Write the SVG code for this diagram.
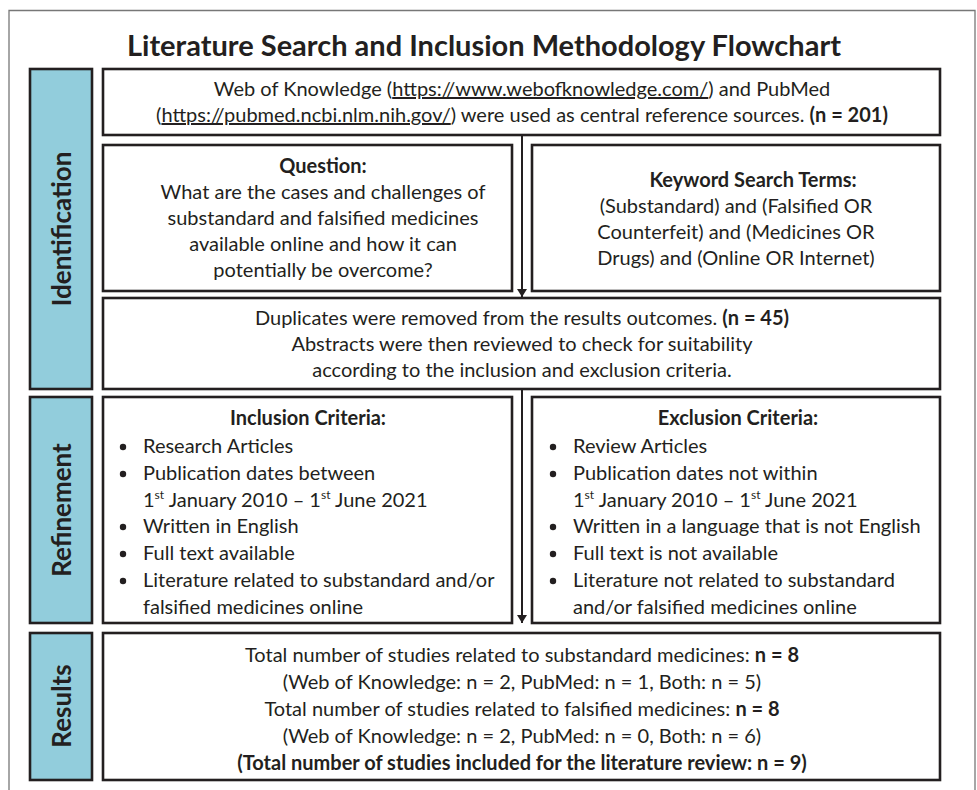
<svg xmlns="http://www.w3.org/2000/svg" width="977" height="790" viewBox="0 0 977 790">
<style>
.t{font-family:Lato,"Open Sans",sans-serif;font-size:20px;fill:#231f20}
.b{font-weight:bold}
.box{fill:#fff;stroke:#231f20;stroke-width:2.6}
.lab{fill:#92cddc;stroke:#231f20;stroke-width:2.6}
.lt{font-family:Lato,"Open Sans",sans-serif;font-size:26px;font-weight:bold;fill:#231f20}
.c{text-anchor:middle}
.u{text-decoration:underline}
.sup{font-size:12px}
</style>
<defs>
<marker id="ah" markerWidth="8" markerHeight="10" refX="8" refY="5" orient="auto" markerUnits="userSpaceOnUse"><path d="M0,0 L8,5 L0,10 Z" fill="#231f20"/></marker>
</defs>
<rect width="977" height="790" fill="#fff"/>
<path d="M9,790 V10.5 H975 V790" fill="none" stroke="#777" stroke-width="1.3"/>
<text class="t b c" x="484" y="56" style="font-size:29px">Literature Search and Inclusion Methodology Flowchart</text>

<g id="label-identification"><rect class="lab" x="30" y="69" width="62" height="320"/><text class="lt c" transform="translate(71,229) rotate(-90)">Identification</text></g>
<g id="label-refinement"><rect class="lab" x="30" y="397" width="62" height="226"/><text class="lt c" transform="translate(71,510) rotate(-90)">Refinement</text></g>
<g id="label-results"><rect class="lab" x="30" y="633" width="62" height="147"/><text class="lt c" transform="translate(71,706) rotate(-90)">Results</text></g>

<g id="connectors" stroke="#231f20" stroke-width="2" fill="none">
<line x1="522" y1="135" x2="522" y2="297" marker-end="url(#ah)"/>
<line x1="522" y1="389" x2="522" y2="623" marker-end="url(#ah)"/>
</g>

<g id="sources"><rect class="box" x="103" y="69" width="837" height="66"/>
<text class="t c" x="522" y="96">Web of Knowledge (<tspan class="u">https://www.webofknowledge.com/</tspan>) and PubMed</text>
<text class="t c" x="522" y="122">(<tspan class="u">https://pubmed.ncbi.nlm.nih.gov/</tspan>) were used as central reference sources. <tspan class="b">(n = 201)</tspan></text>
</g>

<g id="question"><rect class="box" x="103" y="145" width="409" height="146"/>
<text class="t c b" x="323" y="173">Question:</text>
<text class="t c" x="323" y="199">What are the cases and challenges of</text>
<text class="t c" x="323" y="225">substandard and falsified medicines</text>
<text class="t c" x="323" y="251">available online and how it can</text>
<text class="t c" x="323" y="277">potentially be overcome?</text>
</g>

<g id="keywords"><rect class="box" x="532" y="145" width="408" height="146"/>
<text class="t c b" x="753" y="187">Keyword Search Terms:</text>
<text class="t c" x="736" y="213">(Substandard) and (Falsified OR</text>
<text class="t c" x="736" y="239">Counterfeit) and (Medicines OR</text>
<text class="t c" x="736" y="265">Drugs) and (Online OR Internet)</text>
</g>

<g id="duplicates"><rect class="box" x="103" y="298" width="837" height="91"/>
<text class="t c" x="522" y="325">Duplicates were removed from the results outcomes. <tspan class="b">(n = 45)</tspan></text>
<text class="t c" x="522" y="351">Abstracts were then reviewed to check for suitability</text>
<text class="t c" x="522" y="377">according to the inclusion and exclusion criteria.</text>
</g>

<g id="inclusion"><rect class="box" x="103" y="397" width="409" height="226"/>
<text class="t c b" x="308" y="425">Inclusion Criteria:</text>
<g fill="#231f20"><circle cx="123" cy="447" r="3.2"/><circle cx="123" cy="474" r="3.2"/><circle cx="123" cy="527" r="3.2"/><circle cx="123" cy="554" r="3.2"/><circle cx="123" cy="581" r="3.2"/></g>
<text class="t" x="143" y="453">Research Articles</text>
<text class="t" x="143" y="480">Publication dates between</text>
<text class="t" x="143" y="507">1<tspan class="sup" dy="-8">st</tspan><tspan dy="8"> January 2010 – 1</tspan><tspan class="sup" dy="-8">st</tspan><tspan dy="8"> June 2021</tspan></text>
<text class="t" x="143" y="533">Written in English</text>
<text class="t" x="143" y="560">Full text available</text>
<text class="t" x="143" y="587">Literature related to substandard and/or</text>
<text class="t" x="143" y="614">falsified medicines online</text>
</g>

<g id="exclusion"><rect class="box" x="532" y="397" width="408" height="226"/>
<text class="t c b" x="738" y="425">Exclusion Criteria:</text>
<g fill="#231f20"><circle cx="553" cy="447" r="3.2"/><circle cx="553" cy="474" r="3.2"/><circle cx="553" cy="527" r="3.2"/><circle cx="553" cy="554" r="3.2"/><circle cx="553" cy="581" r="3.2"/></g>
<text class="t" x="573" y="453">Review Articles</text>
<text class="t" x="573" y="480">Publication dates not within</text>
<text class="t" x="573" y="507">1<tspan class="sup" dy="-8">st</tspan><tspan dy="8"> January 2010 – 1</tspan><tspan class="sup" dy="-8">st</tspan><tspan dy="8"> June 2021</tspan></text>
<text class="t" x="573" y="533">Written in a language that is not English</text>
<text class="t" x="573" y="560">Full text is not available</text>
<text class="t" x="573" y="587">Literature not related to substandard</text>
<text class="t" x="573" y="614">and/or falsified medicines online</text>
</g>

<g id="results"><rect class="box" x="103" y="633" width="837" height="147"/>
<text class="t c" x="522" y="662">Total number of studies related to substandard medicines: <tspan class="b">n = 8</tspan></text>
<text class="t c" x="522" y="689">(Web of Knowledge: n = 2, PubMed: n = 1, Both: n = 5)</text>
<text class="t c" x="522" y="716">Total number of studies related to falsified medicines: <tspan class="b">n = 8</tspan></text>
<text class="t c" x="522" y="743">(Web of Knowledge: n = 2, PubMed: n = 0, Both: n = 6)</text>
<text class="t c b" x="522" y="770">(Total number of studies included for the literature review: n = 9)</text>
</g>
</svg>
